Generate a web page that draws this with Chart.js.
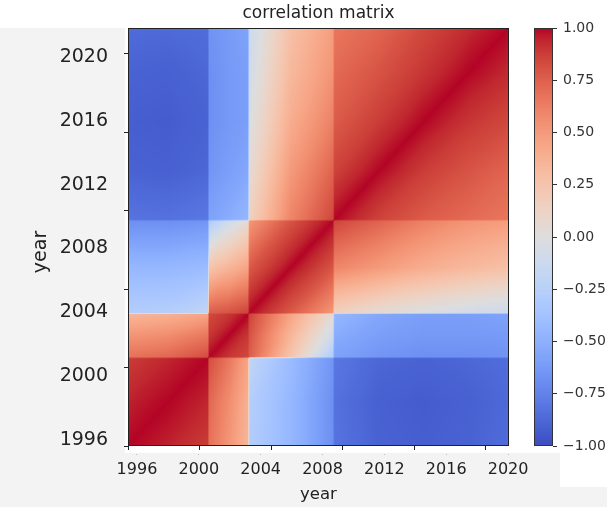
<!DOCTYPE html>
<html>
<head>
<meta charset="utf-8">
<title>correlation matrix</title>
<script src="https://cdn.jsdelivr.net/npm/chart.js@4/dist/chart.umd.min.js"></script>
<style>
  html, body { margin: 0; padding: 0; background: #ffffff; }
  #wrap { width: 607px; height: 507px; }
</style>
</head>
<body>
<div id="wrap"><canvas id="chart" width="607" height="507"></canvas></div>
<script>
// Mesh node positions (years) shared by both axes of the symmetric matrix.
const nodeYears = [1996.0, 1998.2, 2000.45, 2000.55, 2001.65, 2002.7, 2002.8,
                   2005.1, 2007.45, 2007.55, 2010.0, 2012.5, 2015.0, 2017.3];

// Correlation at each pair of nodes: corr[row = y node][col = x node].
const corr = [
  [ 1.00,  0.95,  0.88,  0.68,  0.52,  0.35, -0.28, -0.45, -0.68, -0.82, -0.90, -0.92, -0.90, -0.86],
  [ 0.95,  1.00,  0.94,  0.72,  0.56,  0.38, -0.27, -0.45, -0.68, -0.83, -0.91, -0.93, -0.91, -0.87],
  [ 0.88,  0.94,  1.00,  0.82,  0.66,  0.45, -0.20, -0.42, -0.65, -0.80, -0.88, -0.90, -0.88, -0.85],
  [ 0.68,  0.72,  0.82,  1.00,  0.90,  0.84,  0.76,  0.25, -0.30, -0.58, -0.65, -0.68, -0.68, -0.66],
  [ 0.52,  0.56,  0.66,  0.90,  1.00,  0.90,  0.80,  0.35, -0.10, -0.52, -0.60, -0.63, -0.63, -0.62],
  [ 0.35,  0.38,  0.45,  0.84,  0.90,  1.00,  0.86,  0.45,  0.05, -0.45, -0.55, -0.60, -0.60, -0.58],
  [-0.28, -0.27, -0.20,  0.76,  0.80,  0.86,  1.00,  0.78,  0.52,  0.15,  0.05, -0.02, -0.08, -0.12],
  [-0.45, -0.45, -0.42,  0.25,  0.35,  0.45,  0.78,  1.00,  0.80,  0.60,  0.50,  0.40,  0.33,  0.28],
  [-0.68, -0.68, -0.65, -0.30, -0.10,  0.05,  0.52,  0.80,  1.00,  0.85,  0.74,  0.62,  0.53,  0.48],
  [-0.82, -0.83, -0.80, -0.58, -0.52, -0.45,  0.15,  0.60,  0.85,  1.00,  0.86,  0.77,  0.71,  0.66],
  [-0.90, -0.91, -0.88, -0.65, -0.60, -0.55,  0.05,  0.50,  0.74,  0.86,  1.00,  0.88,  0.80,  0.73],
  [-0.92, -0.93, -0.90, -0.68, -0.63, -0.60, -0.02,  0.40,  0.62,  0.77,  0.88,  1.00,  0.90,  0.84],
  [-0.90, -0.91, -0.88, -0.68, -0.63, -0.60, -0.08,  0.33,  0.53,  0.71,  0.80,  0.90,  1.00,  0.93],
  [-0.86, -0.87, -0.85, -0.66, -0.62, -0.58, -0.12,  0.28,  0.48,  0.66,  0.73,  0.84,  0.93,  1.00]
];

// Tick marks on the data axes, the year labels, and the colour bar ticks.
const tickMarkYears = [1996, 2000, 2004, 2008, 2012, 2016];
const yearLabels = [1996, 2000, 2004, 2008, 2012, 2016, 2020];
const colorbarTicks = [-1, -0.75, -0.5, -0.25, 0, 0.25, 0.5, 0.75, 1];

// Diverging cool-warm colour map, -1 (blue) .. +1 (red).
const COOLWARM = [
  [59,76,192],[68,90,204],[77,104,215],[87,117,225],[98,130,234],[108,142,241],
  [119,154,247],[130,165,251],[141,176,254],[152,185,255],[163,194,255],[174,201,253],
  [184,208,249],[194,213,244],[204,217,238],[213,219,230],[221,221,221],[229,216,209],
  [236,211,197],[241,204,184],[245,196,173],[247,187,160],[247,177,148],[247,166,135],
  [244,154,123],[241,141,111],[236,127,99],[229,112,88],[222,96,77],[213,80,66],
  [203,62,56],[192,40,47],[180,4,38]
];

const FONT = "'DejaVu Sans', 'Liberation Sans', sans-serif";

function coolwarm(v) {
  const s = Math.min(1, Math.max(0, (v + 1) / 2)) * (COOLWARM.length - 1);
  const k = Math.min(Math.floor(s), COOLWARM.length - 2);
  const f = s - k;
  const a = COOLWARM[k], b = COOLWARM[k + 1];
  return [a[0] + (b[0] - a[0]) * f, a[1] + (b[1] - a[1]) * f, a[2] + (b[2] - a[2]) * f];
}

function locate(nodes, v) {
  let k = 0;
  while (k < nodes.length - 2 && v > nodes[k + 1]) k++;
  const t = (v - nodes[k]) / (nodes[k + 1] - nodes[k]);
  return [k, Math.min(1, Math.max(0, t))];
}

// Gouraud shading: each mesh cell is split into two triangles along its diagonal.
function meshValue(xv, yv) {
  const [i, u] = locate(nodeYears, xv);
  const [j, v] = locate(nodeYears, yv);
  const f00 = corr[j][i], f10 = corr[j][i + 1];
  const f01 = corr[j + 1][i], f11 = corr[j + 1][i + 1];
  if (u >= v) return f00 + u * (f10 - f00) + v * (f11 - f10);
  return f00 + v * (f01 - f00) + u * (f11 - f01);
}

const points = [];
nodeYears.forEach((yy, j) => nodeYears.forEach((xx, i) => points.push({ x: xx, y: yy, v: corr[j][i] })));

const BAR_WIDTH = 19;

const heatmapPlugin = {
  id: 'heatmap',
  beforeDraw(chart) {
    const ctx = chart.ctx;
    ctx.save();
    ctx.fillStyle = '#ffffff';
    ctx.fillRect(0, 0, chart.width, chart.height);
    ctx.fillStyle = '#f3f3f3';
    ctx.fillRect(0, 28, 125, chart.height - 28);
    ctx.fillRect(0, 453, 560, chart.height - 453);
    ctx.fillRect(0, 487, chart.width, chart.height - 487);
    ctx.restore();
  },
  beforeDatasetsDraw(chart) {
    const ctx = chart.ctx;
    const xs = chart.scales.x, ys = chart.scales.y;
    const { left, top, right, bottom } = chart.chartArea;
    const w = Math.round(right - left), h = Math.round(bottom - top);
    const off = document.createElement('canvas');
    off.width = w; off.height = h;
    const octx = off.getContext('2d');
    const img = octx.createImageData(w, h);
    const xv = [];
    for (let px = 0; px < w; px++) xv.push(xs.getValueForPixel(left + px + 0.5));
    for (let py = 0; py < h; py++) {
      const yv = ys.getValueForPixel(top + py + 0.5);
      for (let px = 0; px < w; px++) {
        const c = coolwarm(meshValue(xv[px], yv));
        const o = (py * w + px) * 4;
        img.data[o] = c[0]; img.data[o + 1] = c[1]; img.data[o + 2] = c[2]; img.data[o + 3] = 255;
      }
    }
    octx.putImageData(img, 0, 0);
    ctx.save();
    ctx.drawImage(off, left, top);
    ctx.strokeStyle = '#222';
    ctx.lineWidth = 1;
    ctx.strokeRect(left + 0.5, top + 0.5, w - 1, h - 1);

    // colour bar, sampled through its own scale
    const cb = chart.scales.cb;
    const barLeft = cb.left - BAR_WIDTH;
    for (let py = Math.floor(cb.top); py < Math.ceil(cb.bottom); py++) {
      const c = coolwarm(cb.getValueForPixel(py + 0.5));
      ctx.fillStyle = `rgb(${c[0]},${c[1]},${c[2]})`;
      ctx.fillRect(barLeft, py, BAR_WIDTH, 1);
    }
    ctx.strokeStyle = '#333';
    ctx.strokeRect(barLeft + 0.5, cb.top + 0.5, BAR_WIDTH - 1, cb.bottom - cb.top - 1);
    ctx.restore();
  },
  afterDraw(chart) {
    const ctx = chart.ctx;
    ctx.save();
    ctx.translate(41, 252);
    ctx.rotate(-Math.PI / 2);
    ctx.font = '19px ' + FONT;
    ctx.fillStyle = '#222';
    ctx.textAlign = 'center';
    ctx.textBaseline = 'middle';
    ctx.fillText('year', 0, 0);
    ctx.restore();
  }
};

const setTicks = (values) => (scale) => { scale.ticks = values.map(v => ({ value: v })); };
const fmtBar = (v) => (v < 0 ? '\u2212' : '') + Math.abs(v).toFixed(2);

new Chart(document.getElementById('chart'), {
  type: 'scatter',
  data: { datasets: [{ data: points, pointRadius: 0, pointHoverRadius: 0 }] },
  options: {
    responsive: false,
    animation: false,
    devicePixelRatio: 1,
    layout: { padding: 0 },
    events: [],
    plugins: {
      legend: { display: false },
      tooltip: { enabled: false },
      title: {
        display: true,
        text: 'correlation matrix',
        fullSize: false,
        color: '#222',
        font: { family: FONT, size: 17, weight: 'normal' },
        padding: { top: 3, bottom: 4.6 }
      }
    },
    scales: {
      x: {
        type: 'linear', position: 'bottom', min: 1996, max: 2017.3,
        afterBuildTicks: setTicks(tickMarkYears),
        ticks: { display: false },
        grid: { display: true, drawOnChartArea: false, drawTicks: true, tickLength: 4, tickColor: '#222' },
        border: { display: false },
        afterFit: (s) => { s.height = 4; }
      },
      y: {
        type: 'linear', position: 'left', min: 1996, max: 2017.3,
        afterBuildTicks: setTicks(tickMarkYears),
        ticks: { display: false },
        grid: { display: true, drawOnChartArea: false, drawTicks: true, tickLength: 4, tickColor: '#222' },
        border: { display: false },
        afterFit: (s) => { s.width = 4; }
      },
      xl: {
        type: 'linear', position: 'bottom', min: 1995.42, max: 2020.06,
        afterBuildTicks: setTicks(yearLabels),
        ticks: {
          color: '#222', font: { family: FONT, size: 16 }, padding: 5,
          maxRotation: 0, autoSkip: false, callback: (v) => String(v)
        },
        grid: {
          display: true, drawOnChartArea: false, drawTicks: true, tickLength: 5,
          tickColor: '#bdbdbd', tickBorderDash: [1, 4], tickBorderDashOffset: 1
        },
        border: { display: false },
        title: { display: true, text: 'year', color: '#222', font: { family: FONT, size: 16.5 }, padding: { top: 0, bottom: 2 } },
        afterFit: (s) => { s.height = 57; }
      },
      yl: {
        type: 'linear', position: 'left', min: 1995.62, max: 2021.82,
        afterBuildTicks: setTicks(yearLabels),
        ticks: { color: '#222', font: { family: FONT, size: 19 }, padding: 16, autoSkip: false, callback: (v) => String(v) },
        grid: { display: false, drawTicks: false },
        border: { display: false },
        afterFit: (s) => { s.width = 124; }
      },
      cbBar: {
        type: 'linear', position: 'right', min: -1, max: 1,
        ticks: { display: false },
        grid: { display: false, drawTicks: false },
        border: { display: false },
        afterFit: (s) => { s.width = 44; }
      },
      cb: {
        type: 'linear', position: 'right', min: -1, max: 1,
        afterBuildTicks: setTicks(colorbarTicks),
        ticks: { color: '#333', font: { family: FONT, size: 14 }, padding: 6, autoSkip: false, callback: fmtBar },
        grid: { display: true, drawOnChartArea: false, drawTicks: true, tickLength: 4, tickColor: '#333' },
        border: { display: false },
        afterFit: (s) => { s.width = 54; }
      }
    }
  },
  plugins: [heatmapPlugin]
});
</script>
</body>
</html>
